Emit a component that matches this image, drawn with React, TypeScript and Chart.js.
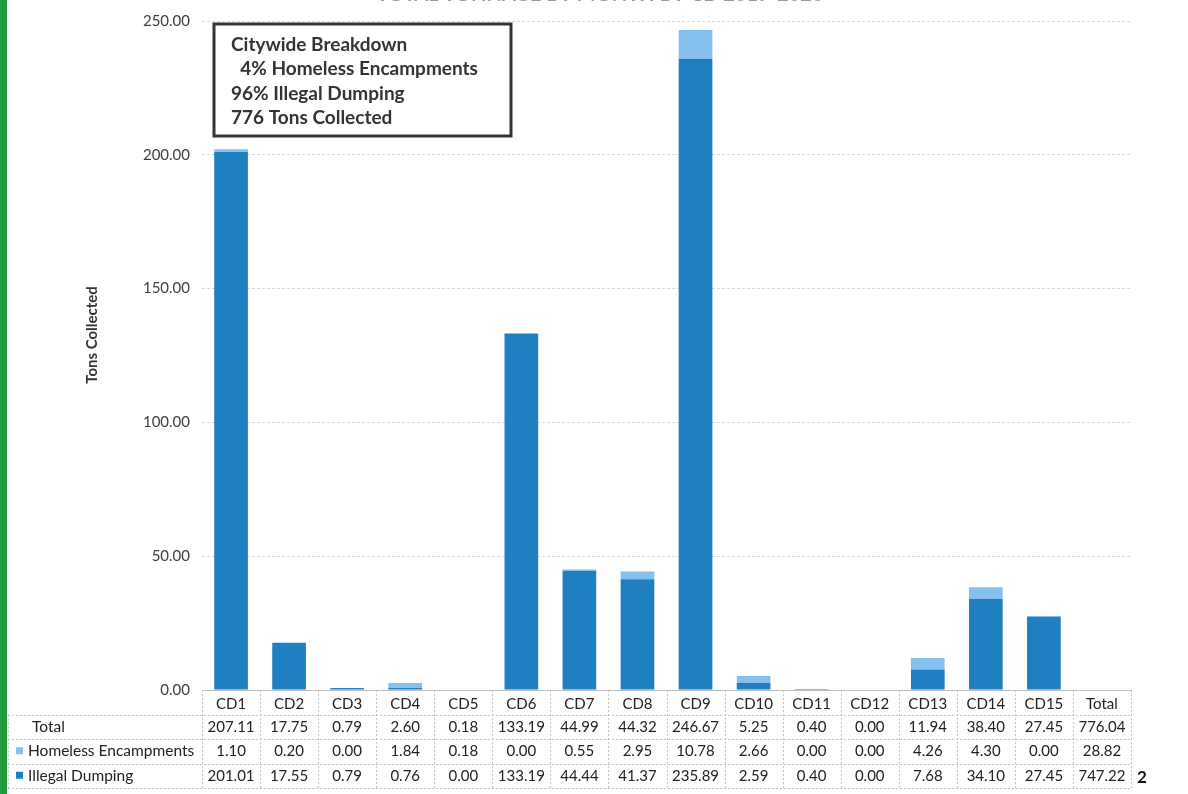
import React, { useEffect, useRef } from "react";
import { Chart, registerables } from "chart.js";

Chart.register(...registerables);

const categories = ["CD1", "CD2", "CD3", "CD4", "CD5", "CD6", "CD7", "CD8", "CD9", "CD10", "CD11", "CD12", "CD13", "CD14", "CD15", "Total"];
const illegalDumping = [201.01, 17.55, 0.79, 0.76, 0.0, 133.19, 44.44, 41.37, 235.89, 2.59, 0.4, 0.0, 7.68, 34.1, 27.45];
const homelessEncampments = [1.1, 0.2, 0.0, 1.84, 0.18, 0.0, 0.55, 2.95, 10.78, 2.66, 0.0, 0.0, 4.26, 4.3, 0.0];
const totalRow = [207.11, 17.75, 0.79, 2.6, 0.18, 133.19, 44.99, 44.32, 246.67, 5.25, 0.4, 0.0, 11.94, 38.4, 27.45, 776.04];
const homelessRow = [...homelessEncampments, 28.82];
const illegalRow = [...illegalDumping, 747.22];
const rowLabels = ["Total", "Homeless Encampments", "Illegal Dumping"];
const yTicks = [0, 50, 100, 150, 200, 250];
const summaryLines = ["Citywide Breakdown", "  4% Homeless Encampments", "96% Illegal Dumping", "776 Tons Collected"];
const titleText = "TOTAL TONNAGE BY MONTH BY CD 2019-2020";
const yTitle = "Tons Collected";
const pageNumber = "2";

const DARK = "#1f7fc1";
const LIGHT = "#86c0ee";
const FONT = "Lato, 'Open Sans', sans-serif";

const decorPlugin = {
  id: "decor",
  beforeDraw(chart: any) {
    const ctx = chart.ctx;
    ctx.save();
    ctx.fillStyle = "#ffffff";
    ctx.fillRect(0, 0, chart.width, chart.height);
    ctx.fillStyle = "#1f9a3f";
    ctx.fillRect(0, 0, 7, chart.height);
    // clipped title
    ctx.fillStyle = "#9a9a9a";
    ctx.font = `bold 20px ${FONT}`;
    ctx.textAlign = "center";
    ctx.textBaseline = "alphabetic";
    ctx.fillText(titleText, 600, 1);
    ctx.restore();
  },
  afterDraw(chart: any) {
    const ctx = chart.ctx;
    const ca = chart.chartArea;
    const xs = chart.scales.x;
    const n = categories.length;
    const colW = (ca.right - ca.left) / n;
    const rowH = 24.5;
    const top = ca.bottom;
    ctx.save();

    // y-axis title
    ctx.save();
    ctx.translate(92, 335);
    ctx.rotate(-Math.PI / 2);
    ctx.font = `bold 15px ${FONT}`;
    ctx.fillStyle = "#333";
    ctx.textAlign = "center";
    ctx.textBaseline = "middle";
    ctx.fillText(yTitle, 0, 0);
    ctx.restore();

    // table lines
    ctx.strokeStyle = "#c4c4c4";
    ctx.lineWidth = 1;
    ctx.setLineDash([2, 2]);
    for (let r = 1; r <= 4; r++) {
      const y = Math.round(top + r * rowH) + 0.5;
      ctx.beginPath();
      ctx.moveTo(8, y);
      ctx.lineTo(ca.right, y);
      ctx.stroke();
    }
    for (let c = 0; c <= n; c++) {
      const x = Math.round(ca.left + c * colW) + 0.5;
      ctx.beginPath();
      ctx.moveTo(x, top);
      ctx.lineTo(x, top + 4 * rowH);
      ctx.stroke();
    }
    ctx.beginPath();
    ctx.moveTo(8.5, top + rowH);
    ctx.lineTo(8.5, top + 4 * rowH);
    ctx.stroke();
    ctx.setLineDash([]);

    // rows
    ctx.fillStyle = "#222";
    ctx.textBaseline = "middle";
    ctx.textAlign = "left";
    const rows = [totalRow, homelessRow, illegalRow];
    rows.forEach((vals, r) => {
      const cy = top + (r + 1.5) * rowH;
      ctx.font = `15.5px ${FONT}`;
      ctx.textAlign = "left";
      if (r === 0) {
        ctx.fillText(rowLabels[r], 32, cy);
      } else {
        ctx.fillStyle = r === 1 ? LIGHT : DARK;
        ctx.fillRect(16, cy - 4, 7, 7);
        ctx.fillStyle = "#222";
        ctx.fillText(rowLabels[r], 28, cy);
      }
      ctx.font = `15px ${FONT}`;
      ctx.textAlign = "center";
      vals.forEach((v, i) => {
        ctx.fillText(v.toFixed(2), xs.getPixelForValue(i), cy);
      });
    });

    // summary box
    ctx.textAlign = "left";
    ctx.fillStyle = "#ffffff";
    ctx.fillRect(214, 24, 297, 112);
    ctx.strokeStyle = "#333";
    ctx.lineWidth = 3;
    ctx.strokeRect(214, 24, 297, 112);
    ctx.fillStyle = "#333";
    ctx.font = `bold 19px ${FONT}`;
    ctx.textBaseline = "middle";
    summaryLines.forEach((line, i) => {
      ctx.fillText(line, 231, 45 + i * 24.3);
    });

    // page number
    ctx.fillStyle = "#111";
    ctx.font = `bold 17px ${FONT}`;
    ctx.fillText(pageNumber, 1137, 778);
    ctx.restore();
  },
};

export default function App() {
  const ref = useRef<HTMLCanvasElement | null>(null);
  useEffect(() => {
    if (!ref.current) return;
    const chart = new Chart(ref.current, {
      type: "bar",
      data: {
        labels: categories,
        datasets: [
          {
            label: "Illegal Dumping",
            data: [...illegalDumping, null],
            backgroundColor: DARK,
            barPercentage: 0.58,
            categoryPercentage: 1,
          },
          {
            label: "Homeless Encampments",
            data: [...homelessEncampments, null],
            backgroundColor: LIGHT,
            barPercentage: 0.58,
            categoryPercentage: 1,
          },
        ],
      },
      options: {
        animation: false,
        responsive: false,
        devicePixelRatio: 1,
        layout: { padding: { left: 8, right: 57, top: 15, bottom: 0 } },
        plugins: { legend: { display: false }, tooltip: { enabled: false }, title: { display: false } },
        scales: {
          x: {
            stacked: true,
            grid: { display: false },
            border: { display: true, color: "#bdbdbd" },
            ticks: { color: "#222", font: { family: FONT, size: 15 }, padding: -3, maxRotation: 0, autoSkip: false },
            afterFit: (s: any) => {
              s.height = 104;
            },
          },
          y: {
            stacked: true,
            min: 0,
            max: 250,
            afterBuildTicks: (s: any) => {
              s.ticks = yTicks.map((v) => ({ value: v }));
            },
            ticks: {
              color: "#404040",
              font: { family: FONT, size: 15 },
              padding: 12,
              callback: (v: any) => Number(v).toFixed(2),
            },
            grid: { color: "#d8d8d8", drawTicks: false },
            border: { display: false, dash: [3, 2] },
            afterFit: (s: any) => {
              s.width = 194;
            },
          },
        },
      },
      plugins: [decorPlugin],
    });
    return () => chart.destroy();
  }, []);
  return (
    <div style={{ position: "fixed", left: 0, top: 0, width: 1188, height: 794, background: "#fff" }}>
      <canvas ref={ref} width={1188} height={794} style={{ width: 1188, height: 794 }} />
    </div>
  );
}
